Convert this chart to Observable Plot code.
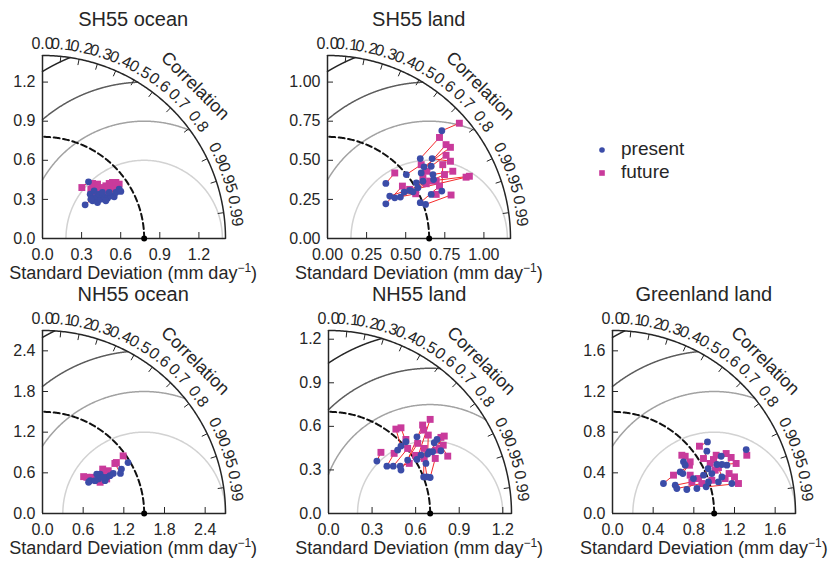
<!DOCTYPE html>
<html><head><meta charset="utf-8">
<script src="https://cdn.jsdelivr.net/npm/d3@7"></script>
<script src="https://cdn.jsdelivr.net/npm/@observablehq/plot@0.6"></script>
<style>
body{margin:0;background:#fff;}
#root{position:relative;width:834px;height:563px;overflow:hidden;font-family:"Liberation Sans",Arial,sans-serif;color:#262626;background:#fff;}
#root svg.panel{position:absolute;overflow:visible;}
.title{position:absolute;font-size:20px;transform:translate(-50%,-50%);white-space:nowrap;}
.xlab{position:absolute;font-size:18px;transform:translate(-50%,-50%);white-space:nowrap;}
.xlab sup{font-size:12px;vertical-align:7px;line-height:0;}
.leg{position:absolute;font-size:19px;white-space:nowrap;transform:translateY(-50%);}
</style></head><body><div id="root"></div>
<script>
// ---------- data ----------
const panelNames = ["SH55 ocean", "SH55 land", "NH55 ocean", "NH55 land", "Greenland land"];
const refStd = [0.78, 0.65, 1.5, 0.7, 1.0];
const maxStd = [1.404, 1.17, 2.7, 1.26, 1.8];
const axisTicks = [[0, 0.3, 0.6, 0.9, 1.2], [0, 0.25, 0.5, 0.75, 1.0], [0, 0.6, 1.2, 1.8, 2.4], [0, 0.3, 0.6, 0.9, 1.2], [0, 0.4, 0.8, 1.2, 1.6]];
const tickDecimals = [1, 2, 1, 1, 1];
const rmsLevels = [[0.6, 0.9, 1.2, 1.5], [0.5, 0.75, 1.0, 1.25], [1.2, 1.8, 2.4, 3.0], [0.5, 0.75, 1.0, 1.25], [0.8, 1.2, 1.6, 2.0]];
const corrTicks = [0, 0.1, 0.2, 0.3, 0.4, 0.5, 0.6, 0.7, 0.8, 0.9, 0.95, 0.99];
const corrLabels = ["0.0", "0.1", "0.2", "0.3", "0.4", "0.5", "0.6", "0.7", "0.8", "0.9", "0.95", "0.99"];
const seriesNames = ["present", "future"];

// present / future points as [std*corr, std*sin(acos corr)]
const sh55OceanPresent = [[0.353,0.435],[0.327,0.258],[0.366,0.34],[0.384,0.289],[0.409,0.315],[0.422,0.276],[0.448,0.302],[0.473,0.32],[0.499,0.309],[0.524,0.327],[0.55,0.32],[0.563,0.353],[0.588,0.379],[0.601,0.361],[0.486,0.289],[0.435,0.34],[0.46,0.353],[0.396,0.366],[0.512,0.353],[0.371,0.302]];
const sh55OceanFuture = [[0.302,0.391],[0.391,0.315],[0.371,0.379],[0.396,0.353],[0.409,0.391],[0.448,0.361],[0.473,0.345],[0.499,0.371],[0.524,0.391],[0.55,0.391],[0.575,0.404],[0.563,0.43],[0.588,0.417],[0.537,0.43],[0.486,0.404],[0.435,0.379],[0.46,0.391],[0.384,0.422],[0.512,0.422],[0.422,0.417]];

const sh55LandPresent = [[0.731,0.689],[0.373,0.352],[0.373,0.222],[0.398,0.271],[0.43,0.26],[0.466,0.265],[0.504,0.409],[0.49,0.297],[0.525,0.307],[0.568,0.356],[0.593,0.511],[0.599,0.419],[0.617,0.458],[0.663,0.462],[0.669,0.511],[0.674,0.409],[0.678,0.377],[0.663,0.282],[0.731,0.303],[0.593,0.229],[0.627,0.218],[0.578,0.324],[0.61,0.366],[0.547,0.299]];
const sh55LandFuture = [[0.843,0.737],[0.43,0.419],[0.479,0.335],[0.525,0.314],[0.564,0.286],[0.631,0.35],[0.599,0.472],[0.653,0.367],[0.886,0.392],[0.907,0.398],[0.716,0.646],[0.758,0.6],[0.786,0.583],[0.758,0.532],[0.786,0.494],[0.801,0.43],[0.748,0.409],[0.695,0.282],[0.737,0.472],[0.716,0.335],[0.79,0.278],[0.61,0.388],[0.695,0.367],[0.636,0.43]];

const nh55OceanPresent = [[1.262,0.752],[1.165,0.655],[1.15,0.592],[1.044,0.592],[0.947,0.534],[0.922,0.485],[0.85,0.582],[0.8,0.582],[0.825,0.51],[0.704,0.485],[0.68,0.461],[0.777,0.485],[0.898,0.534],[0.995,0.558]];
const nh55OceanFuture = [[1.19,0.85],[1.09,0.752],[1.068,0.738],[0.995,0.582],[0.97,0.631],[0.85,0.461],[0.888,0.655],[0.898,0.607],[0.752,0.51],[0.655,0.534],[0.607,0.544],[0.8,0.485],[0.728,0.534],[0.947,0.51]];

const nh55LandPresent = [[0.499,0.464],[0.533,0.494],[0.476,0.437],[0.333,0.361],[0.402,0.326],[0.446,0.326],[0.494,0.326],[0.499,0.299],[0.545,0.368],[0.609,0.372],[0.609,0.528],[0.694,0.425],[0.683,0.409],[0.717,0.425],[0.728,0.487],[0.747,0.51],[0.655,0.252],[0.678,0.252],[0.70,0.248],[0.637,0.402],[0.774,0.432],[0.671,0.345]];
const nh55LandFuture = [[0.464,0.581],[0.499,0.59],[0.533,0.51],[0.361,0.421],[0.452,0.414],[0.545,0.448],[0.556,0.345],[0.614,0.483],[0.648,0.609],[0.70,0.648],[0.655,0.574],[0.774,0.524],[0.687,0.54],[0.797,0.533],[0.763,0.448],[0.821,0.395],[0.659,0.448],[0.659,0.379],[0.735,0.379],[0.74,0.437],[0.79,0.47],[0.60,0.40]];

const greenlandPresent = [[0.934,0.704],[1.315,0.629],[0.928,0.613],[1.069,0.563],[1.125,0.475],[1.076,0.482],[1.027,0.482],[0.698,0.508],[0.715,0.475],[0.666,0.409],[0.692,0.393],[0.501,0.295],[0.617,0.278],[0.633,0.246],[0.731,0.236],[0.83,0.246],[0.921,0.262],[0.944,0.311],[0.895,0.377],[1.042,0.311],[1.174,0.295],[0.977,0.393],[0.796,0.344],[1.076,0.36],[0.94,0.44]];
const greenlandFuture = [[0.855,0.662],[1.321,0.573],[0.895,0.541],[1.118,0.59],[1.167,0.551],[1.216,0.492],[1.02,0.573],[0.682,0.573],[0.715,0.563],[0.757,0.475],[0.764,0.508],[0.6,0.377],[0.781,0.311],[0.879,0.295],[0.846,0.344],[0.977,0.327],[1.239,0.295],[1.108,0.344],[0.993,0.531],[1.147,0.393],[1.20,0.36],[1.01,0.426],[0.764,0.377],[1.042,0.452],[0.961,0.492]];

const presentData = [sh55OceanPresent, sh55LandPresent, nh55OceanPresent, nh55LandPresent, greenlandPresent];
const futureData = [sh55OceanFuture, sh55LandFuture, nh55OceanFuture, nh55LandFuture, greenlandFuture];

// ---------- style / layout ----------
const BLUE = "#3b4ca8", PINK = "#c93a9b", RED = "#f52a2a", INK = "#262626";
const levelColors = ["#d2d2d2", "#a2a2a2", "#5c5c5c", "#262626"];
const FONT = "'Liberation Sans', Arial, sans-serif";
const R = 183;
const origins = [[41.7, 237.7], [327.3, 237.7], [41.7, 513.3], [327.7, 513.3], [612.3, 513.3]];
const ML = 60, MR = 90, MT = 70, MB = 40;
const root = document.getElementById("root");

panelNames.forEach((name, i) => {
  const [ox, oy] = origins[i];
  const ref = refStd[i], mx = maxStd[i], s = R / mx;
  const fmt = d3.format("." + tickDecimals[i] + "f");
  const arc = (r) => d3.range(0, 181).map(j => { const a = j / 180 * Math.PI / 2; return {x: r * Math.cos(a), y: r * Math.sin(a)}; });
  const clamp = v => Math.max(-1, Math.min(1, v));
  const rmsArc = (L) => {
    const t0 = Math.acos(clamp((mx * mx - ref * ref - L * L) / (2 * ref * L)));
    const t1 = Math.acos(clamp(-ref / L));
    return d3.range(0, 241).map(j => { const t = t0 + (t1 - t0) * j / 240; return {x: ref + L * Math.cos(t), y: L * Math.sin(t)}; });
  };
  const pres = presentData[i], fut = futureData[i];
  const pairs = pres.map((p, j) => ({x1: p[0], y1: p[1], x2: fut[j][0], y2: fut[j][1]}));
  const cp = (c, r) => ({x: r * c, y: r * Math.sqrt(1 - c * c)});
  const labels = corrTicks.map((c, j) => ({...cp(c, mx + 12 / s), t: corrLabels[j], rot: 90 - Math.acos(c) * 180 / Math.PI}));
  const cticks = corrTicks.slice(1).map(c => { const a = cp(c, mx), b = cp(c, mx - 6 / s); return {x1: a.x, y1: a.y, x2: b.x, y2: b.y}; });
  const clab = cp(Math.SQRT1_2, mx + 33 / s);
  const ticks = axisTicks[i];

  const svg = Plot.plot({
    width: ML + R + MR, height: MT + R + MB,
    marginLeft: ML, marginRight: MR, marginTop: MT, marginBottom: MB,
    x: {domain: [0, mx]}, y: {domain: [0, mx]},
    style: {fontFamily: FONT, fontSize: "16px", color: INK, background: "transparent", overflow: "visible"},
    marks: [
      ...rmsLevels[i].map((L, k) => Plot.line(rmsArc(L), {x: "x", y: "y", stroke: levelColors[k], strokeWidth: 1.5})),
      Plot.line(arc(ref), {x: "x", y: "y", stroke: "#111", strokeWidth: 2, strokeDasharray: "6,3.5"}),
      Plot.line(arc(mx), {x: "x", y: "y", stroke: INK, strokeWidth: 1.5}),
      Plot.ruleX([0], {y1: 0, y2: mx, stroke: INK, strokeWidth: 1.5}),
      Plot.ruleY([0], {x1: 0, x2: mx, stroke: INK, strokeWidth: 1.5}),
      Plot.tickX(ticks.slice(1), {x: d => d, insetTop: R - 6, stroke: INK}),
      Plot.tickY(ticks.slice(1), {y: d => d, insetRight: R - 6, stroke: INK}),
      Plot.link(cticks, {x1: "x1", y1: "y1", x2: "x2", y2: "y2", stroke: INK}),
      Plot.axisX({ticks, tickFormat: fmt, tickSize: 0, tickPadding: 10, label: null, fontSize: 16}),
      Plot.axisY({ticks, tickFormat: fmt, tickSize: 0, tickPadding: 7, label: null, fontSize: 16}),
      Plot.text(labels, {x: "x", y: "y", text: "t", rotate: "rot", textAnchor: "middle", lineAnchor: "middle", fontSize: 16, fill: INK}),
      Plot.text(["Correlation"], {x: () => clab.x, y: () => clab.y, text: d => d, rotate: 45, textAnchor: "middle", lineAnchor: "middle", fontSize: 18, fill: INK}),
      Plot.link(pairs, {x1: "x1", y1: "y1", x2: "x2", y2: "y2", stroke: RED, strokeWidth: 1}),
      Plot.dot(fut, {x: d => d[0], y: d => d[1], symbol: "square", r: 3.9, fill: PINK, stroke: "none"}),
      Plot.dot(pres, {x: d => d[0], y: d => d[1], r: 3.4, fill: BLUE, stroke: "none"}),
      Plot.dot([ref], {x: d => d, y: () => 0, r: 3, fill: "#000", stroke: "none"})
    ]
  });
  svg.classList.add("panel");
  svg.style.left = (ox - ML) + "px";
  svg.style.top = (oy - R - MT) + "px";
  root.appendChild(svg);

  const t = document.createElement("div");
  t.className = "title";
  t.textContent = name;
  t.style.left = (ox + R / 2) + "px";
  t.style.top = (oy - R - 36) + "px";
  root.appendChild(t);

  const xl = document.createElement("div");
  xl.className = "xlab";
  xl.innerHTML = "Standard Deviation (mm day<sup>\u22121</sup>)";
  xl.style.left = (ox + R / 2) + "px";
  xl.style.top = (oy + 35) + "px";
  root.appendChild(xl);
});

// legend
const legY = [150, 173];
seriesNames.forEach((nm, k) => {
  const m = document.createElementNS("http://www.w3.org/2000/svg", "svg");
  m.setAttribute("width", 10); m.setAttribute("height", 10);
  m.style.position = "absolute"; m.style.left = "597px"; m.style.top = (legY[k] - 5) + "px";
  if (k === 0) {
    m.innerHTML = '<circle cx="5" cy="5" r="2.8" fill="' + BLUE + '"/>';
  } else {
    m.innerHTML = '<rect x="2.2" y="2.2" width="5.6" height="5.6" fill="' + PINK + '"/>';
  }
  root.appendChild(m);
  const d = document.createElement("div");
  d.className = "leg";
  d.textContent = nm;
  d.style.left = "621px";
  d.style.top = (legY[k] - 1) + "px";
  root.appendChild(d);
});
</script></body></html>
